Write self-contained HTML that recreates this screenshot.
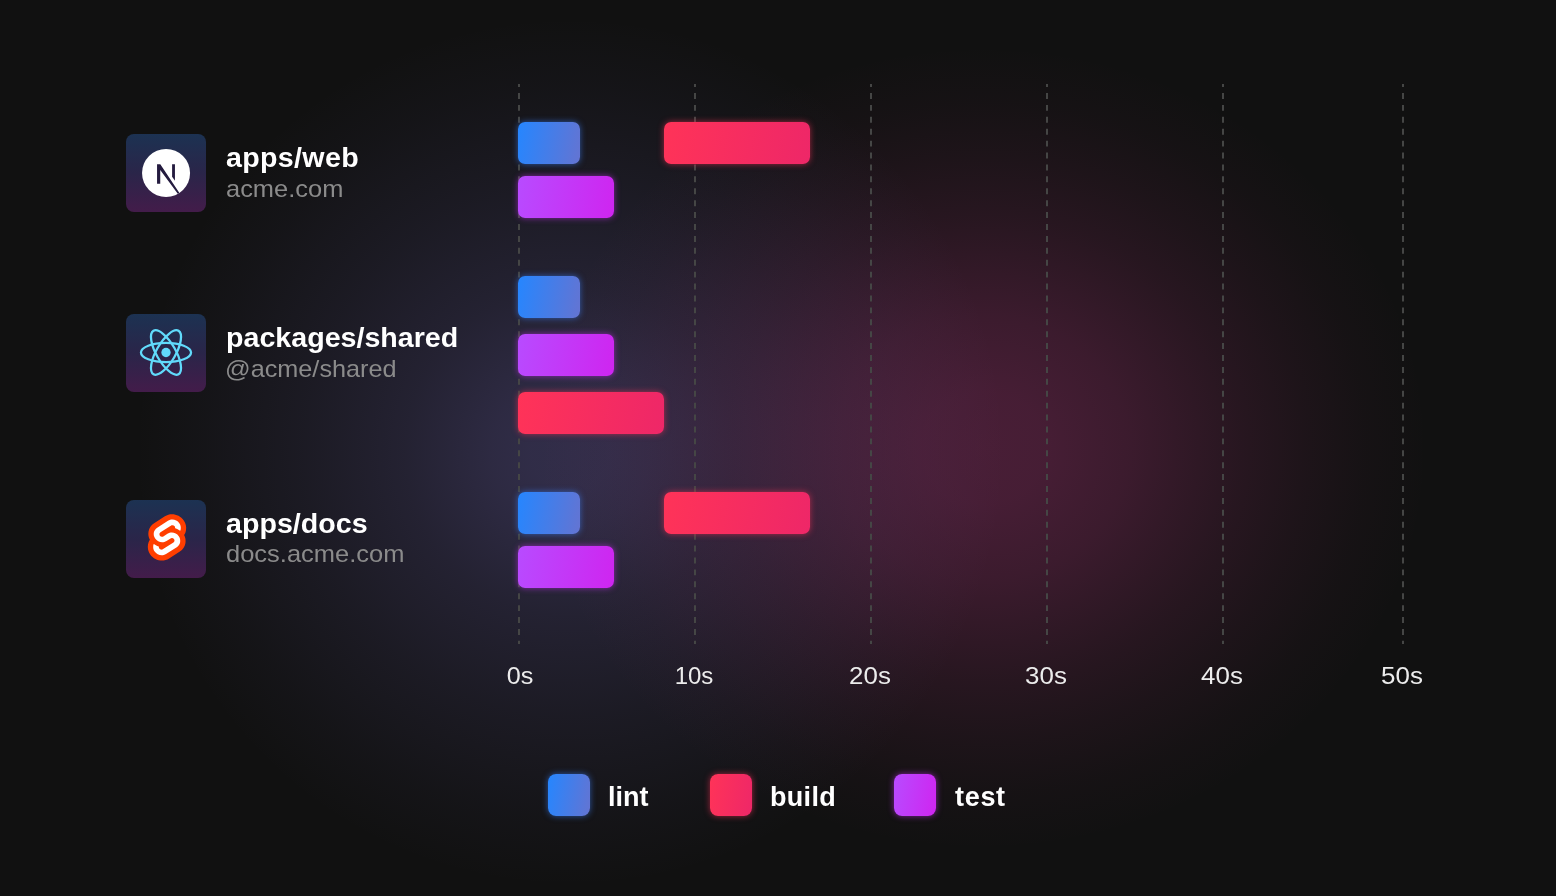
<!DOCTYPE html>
<html lang="en">
<head>
<meta charset="utf-8">
<title>Turborepo task timeline</title>
<style>
  html, body { margin: 0; padding: 0; }
  body {
    width: 1556px; height: 896px; overflow: hidden; position: relative;
    background: #111111;
    font-family: "Liberation Sans", sans-serif;
    -webkit-font-smoothing: antialiased;
  }
  .bg { position: absolute; left: 0; top: 0; width: 1556px; height: 896px; }
  /*BG*/
  .glow-blue{background: radial-gradient(ellipse 435px 435px at 570px 452px, rgba(144,129,237,0.2500) 0.0%, rgba(144,129,237,0.2475) 9.0%, rgba(144,129,237,0.2250) 18.0%, rgba(144,129,237,0.1500) 38.0%, rgba(144,129,237,0.0850) 61.0%, rgba(144,129,237,0.0325) 84.0%, rgba(144,129,237,0.0000) 100.0%);}
  .glow-red{background: radial-gradient(ellipse 445px 402px at 983px 448px, rgba(200,60,140,0.3000) 0.0%, rgba(200,60,140,0.2910) 14.0%, rgba(200,60,140,0.2310) 33.0%, rgba(200,60,140,0.1230) 58.0%, rgba(200,60,140,0.0690) 72.0%, rgba(200,60,140,0.0270) 86.0%, rgba(200,60,140,0.0000) 100.0%);}
  /*ENDBG*/
  .grid { position: absolute; left: 0; top: 0; width: 1556px; height: 896px; }

  .icon {
    position: absolute; left: 126px; width: 80px; height: 78px; border-radius: 8px;
    background: linear-gradient(180deg, #1c3252 0%, #2a2549 50%, #431c4a 100%);
  }
  .icon svg { position: absolute; }
  .title {
    position: absolute; left: 226px; color: #ffffff; font-weight: 700;
    font-size: 27px; line-height: 30px; white-space: nowrap;
    transform-origin: 0 50%; transform: scaleX(1.06);
  }
  .sub {
    position: absolute; left: 226px; color: #8b8b8b; font-weight: 400;
    font-size: 24px; line-height: 30px; white-space: nowrap;
    transform-origin: 0 50%; transform: scaleX(1.06);
  }
  .bar { position: absolute; height: 42px; border-radius: 7px; }
  .lint  { background: linear-gradient(100deg, #2586ff 0%, #6474d2 100%); box-shadow: 0 0 6px rgba(60,130,255,0.6); }
  .build { background: linear-gradient(100deg, #ff3358 0%, #ee2768 100%); box-shadow: 0 0 6px rgba(255,50,90,0.6); }
  .test  { background: linear-gradient(100deg, #b84bff 0%, #cf25f0 100%); box-shadow: 0 0 6px rgba(200,50,245,0.6); }
  .tick {
    position: absolute; top: 661px; width: 80px; margin-left: -40px; text-align: center;
    color: #ececec; font-size: 24px; line-height: 30px; transform: scaleX(1.08);
  }
  .sw { position: absolute; top: 774px; width: 42px; height: 42px; border-radius: 8px; }
  .lg {
    position: absolute; top: 780.5px; color: #ffffff; font-weight: 700;
    font-size: 27px; line-height: 32px; white-space: nowrap;
  }
</style>
</head>
<body>
  <div class="bg" style="background:#111111">
    <div class="bg glow-blue"></div>
    <div class="bg glow-red"></div>
  </div>

  <svg class="grid" width="1556" height="896" viewBox="0 0 1556 896">
    <g stroke="#454645" stroke-width="2" stroke-dasharray="5.955 5.955" stroke-dashoffset="2.91" fill="none">
      <line x1="519" y1="84" x2="519" y2="644"/>
      <line x1="695" y1="84" x2="695" y2="644"/>
      <line x1="871" y1="84" x2="871" y2="644"/>
      <line x1="1047" y1="84" x2="1047" y2="644"/>
      <line x1="1223" y1="84" x2="1223" y2="644"/>
      <line x1="1403" y1="84" x2="1403" y2="644"/>
    </g>
  </svg>

  <!-- row 1 -->
  <div class="icon" style="top:134px">
    <svg style="left:0;top:0" width="80" height="78" viewBox="0 0 80 78">
      <defs><clipPath id="nc"><circle cx="40.05" cy="39" r="24"/></clipPath></defs>
      <circle cx="40.05" cy="39" r="24" fill="#ffffff"/>
      <g clip-path="url(#nc)" fill="#241b3f">
        <path d="M31.05 49.7V30.2H34.3L54.1 60L52.5 60.7L34.25 36.1V49.7Z"/>
        <path d="M46.1 30.2H48.95V46.7L46.1 42.7Z"/>
      </g>
    </svg>
  </div>
  <div class="title" style="top:143px;letter-spacing:0.3px">apps/web</div>
  <div class="sub" style="top:174px">acme.com</div>
  <div class="bar lint"  style="left:518px;top:122px;width:62px"></div>
  <div class="bar build" style="left:664px;top:122px;width:146px"></div>
  <div class="bar test"  style="left:518px;top:176px;width:96px"></div>

  <!-- row 2 -->
  <div class="icon" style="top:314px">
    <svg style="left:0;top:0" width="80" height="78" viewBox="0 0 80 78">
      <g transform="translate(40 38.5) scale(2.278)">
      <circle cx="0" cy="0" r="2.05" fill="#61dafb"/>
      <g stroke="#61dafb" stroke-width="1" fill="none">
        <ellipse rx="11" ry="4.2"/>
        <ellipse rx="11" ry="4.2" transform="rotate(60)"/>
        <ellipse rx="11" ry="4.2" transform="rotate(120)"/>
      </g>
      </g>
    </svg>
  </div>
  <div class="title" style="top:323px">packages/shared</div>
  <div class="sub" style="top:354px;left:225px;transform:scaleX(1.052)">@acme/shared</div>
  <div class="bar lint"  style="left:518px;top:276px;width:62px"></div>
  <div class="bar test"  style="left:518px;top:334px;width:96px"></div>
  <div class="bar build" style="left:518px;top:392px;width:146px"></div>

  <!-- row 3 -->
  <div class="icon" style="top:500px">
    <svg style="left:0;top:0" width="80" height="78" viewBox="0 0 80 78">
      <g transform="translate(21.8 14.3) scale(0.3915)">
      <path fill="#ff3e00" d="M91.8 15.6C80.9-.1 59.2-4.7 43.6 5.2L16.1 22.8C8.6 27.5 3.4 35.2 1.9 43.9c-1.300 7.300-.200 14.800 3.300 21.300-2.400 3.600-4 7.600-4.700 11.800-1.600 8.900.5 18.100 5.700 25.400 11 15.700 32.600 20.300 48.200 10.400l27.500-17.500c7.500-4.700 12.700-12.400 14.200-21.100 1.300-7.300.2-14.800-3.300-21.300 2.400-3.600 4-7.600 4.700-11.800 1.700-9-.4-18.200-5.700-25.500"/>
      <path fill="#ffffff" d="M40.9 103.900c-8.900 2.300-18.200-1.200-23.400-8.700-3.200-4.400-4.400-9.900-3.500-15.300.2-.9.400-1.700.6-2.600l.5-1.600 1.400 1c3.300 2.400 6.900 4.200 10.800 5.400l1 .3-.1 1c-.1 1.400.3 2.900 1.100 4.100 1.600 2.300 4.400 3.400 7.100 2.700.6-.2 1.200-.4 1.700-.7L65.500 72c1.400-.9 2.300-2.200 2.600-3.800.3-1.600-.1-3.300-1-4.600-1.600-2.300-4.400-3.300-7.100-2.600-.6.2-1.200.4-1.700.7l-10.500 6.700c-1.700 1.100-3.600 1.900-5.600 2.400-8.900 2.300-18.200-1.200-23.400-8.700-3.100-4.400-4.400-9.900-3.400-15.300.9-5.200 4.100-9.900 8.600-12.700l27.500-17.500c1.700-1.100 3.600-1.900 5.600-2.500 8.900-2.300 18.200 1.200 23.400 8.700 3.200 4.400 4.400 9.900 3.500 15.300-.2.900-.4 1.700-.7 2.600l-.5 1.600-1.400-1c-3.300-2.400-6.900-4.200-10.800-5.400l-1-.3.1-1c.1-1.400-.3-2.900-1.100-4.100-1.600-2.300-4.400-3.300-7.100-2.600-.6.2-1.200.4-1.700.7L32.400 46.100c-1.400.9-2.300 2.200-2.600 3.800s.1 3.300 1 4.600c1.600 2.300 4.400 3.300 7.100 2.600.6-.2 1.200-.4 1.700-.7l10.500-6.700c1.700-1.100 3.600-1.900 5.600-2.500 8.900-2.300 18.200 1.200 23.400 8.700 3.200 4.400 4.400 9.900 3.500 15.300-.9 5.200-4.100 9.900-8.600 12.700l-27.500 17.500c-1.700 1.100-3.600 1.900-5.600 2.500"/>
    </svg>
  </div>
  <div class="title" style="top:509px">apps/docs</div>
  <div class="sub" style="top:539px;transform:scaleX(1.062)">docs.acme.com</div>
  <div class="bar lint"  style="left:518px;top:492px;width:62px"></div>
  <div class="bar build" style="left:664px;top:492px;width:146px"></div>
  <div class="bar test"  style="left:518px;top:546px;width:96px"></div>

  <!-- axis -->
  <div class="tick" style="left:520px;transform:scaleX(1.05)">0s</div>
  <div class="tick" style="left:694px;transform:none">10s</div>
  <div class="tick" style="left:870px">20s</div>
  <div class="tick" style="left:1046px">30s</div>
  <div class="tick" style="left:1221.6px">40s</div>
  <div class="tick" style="left:1402px">50s</div>

  <!-- legend -->
  <div class="sw lint"  style="left:548px"></div>
  <div class="lg" style="left:608px">lint</div>
  <div class="sw build" style="left:710px"></div>
  <div class="lg" style="left:770px;letter-spacing:0.3px">build</div>
  <div class="sw test"  style="left:894px"></div>
  <div class="lg" style="left:955px;letter-spacing:0.7px">test</div>
</body>
</html>
